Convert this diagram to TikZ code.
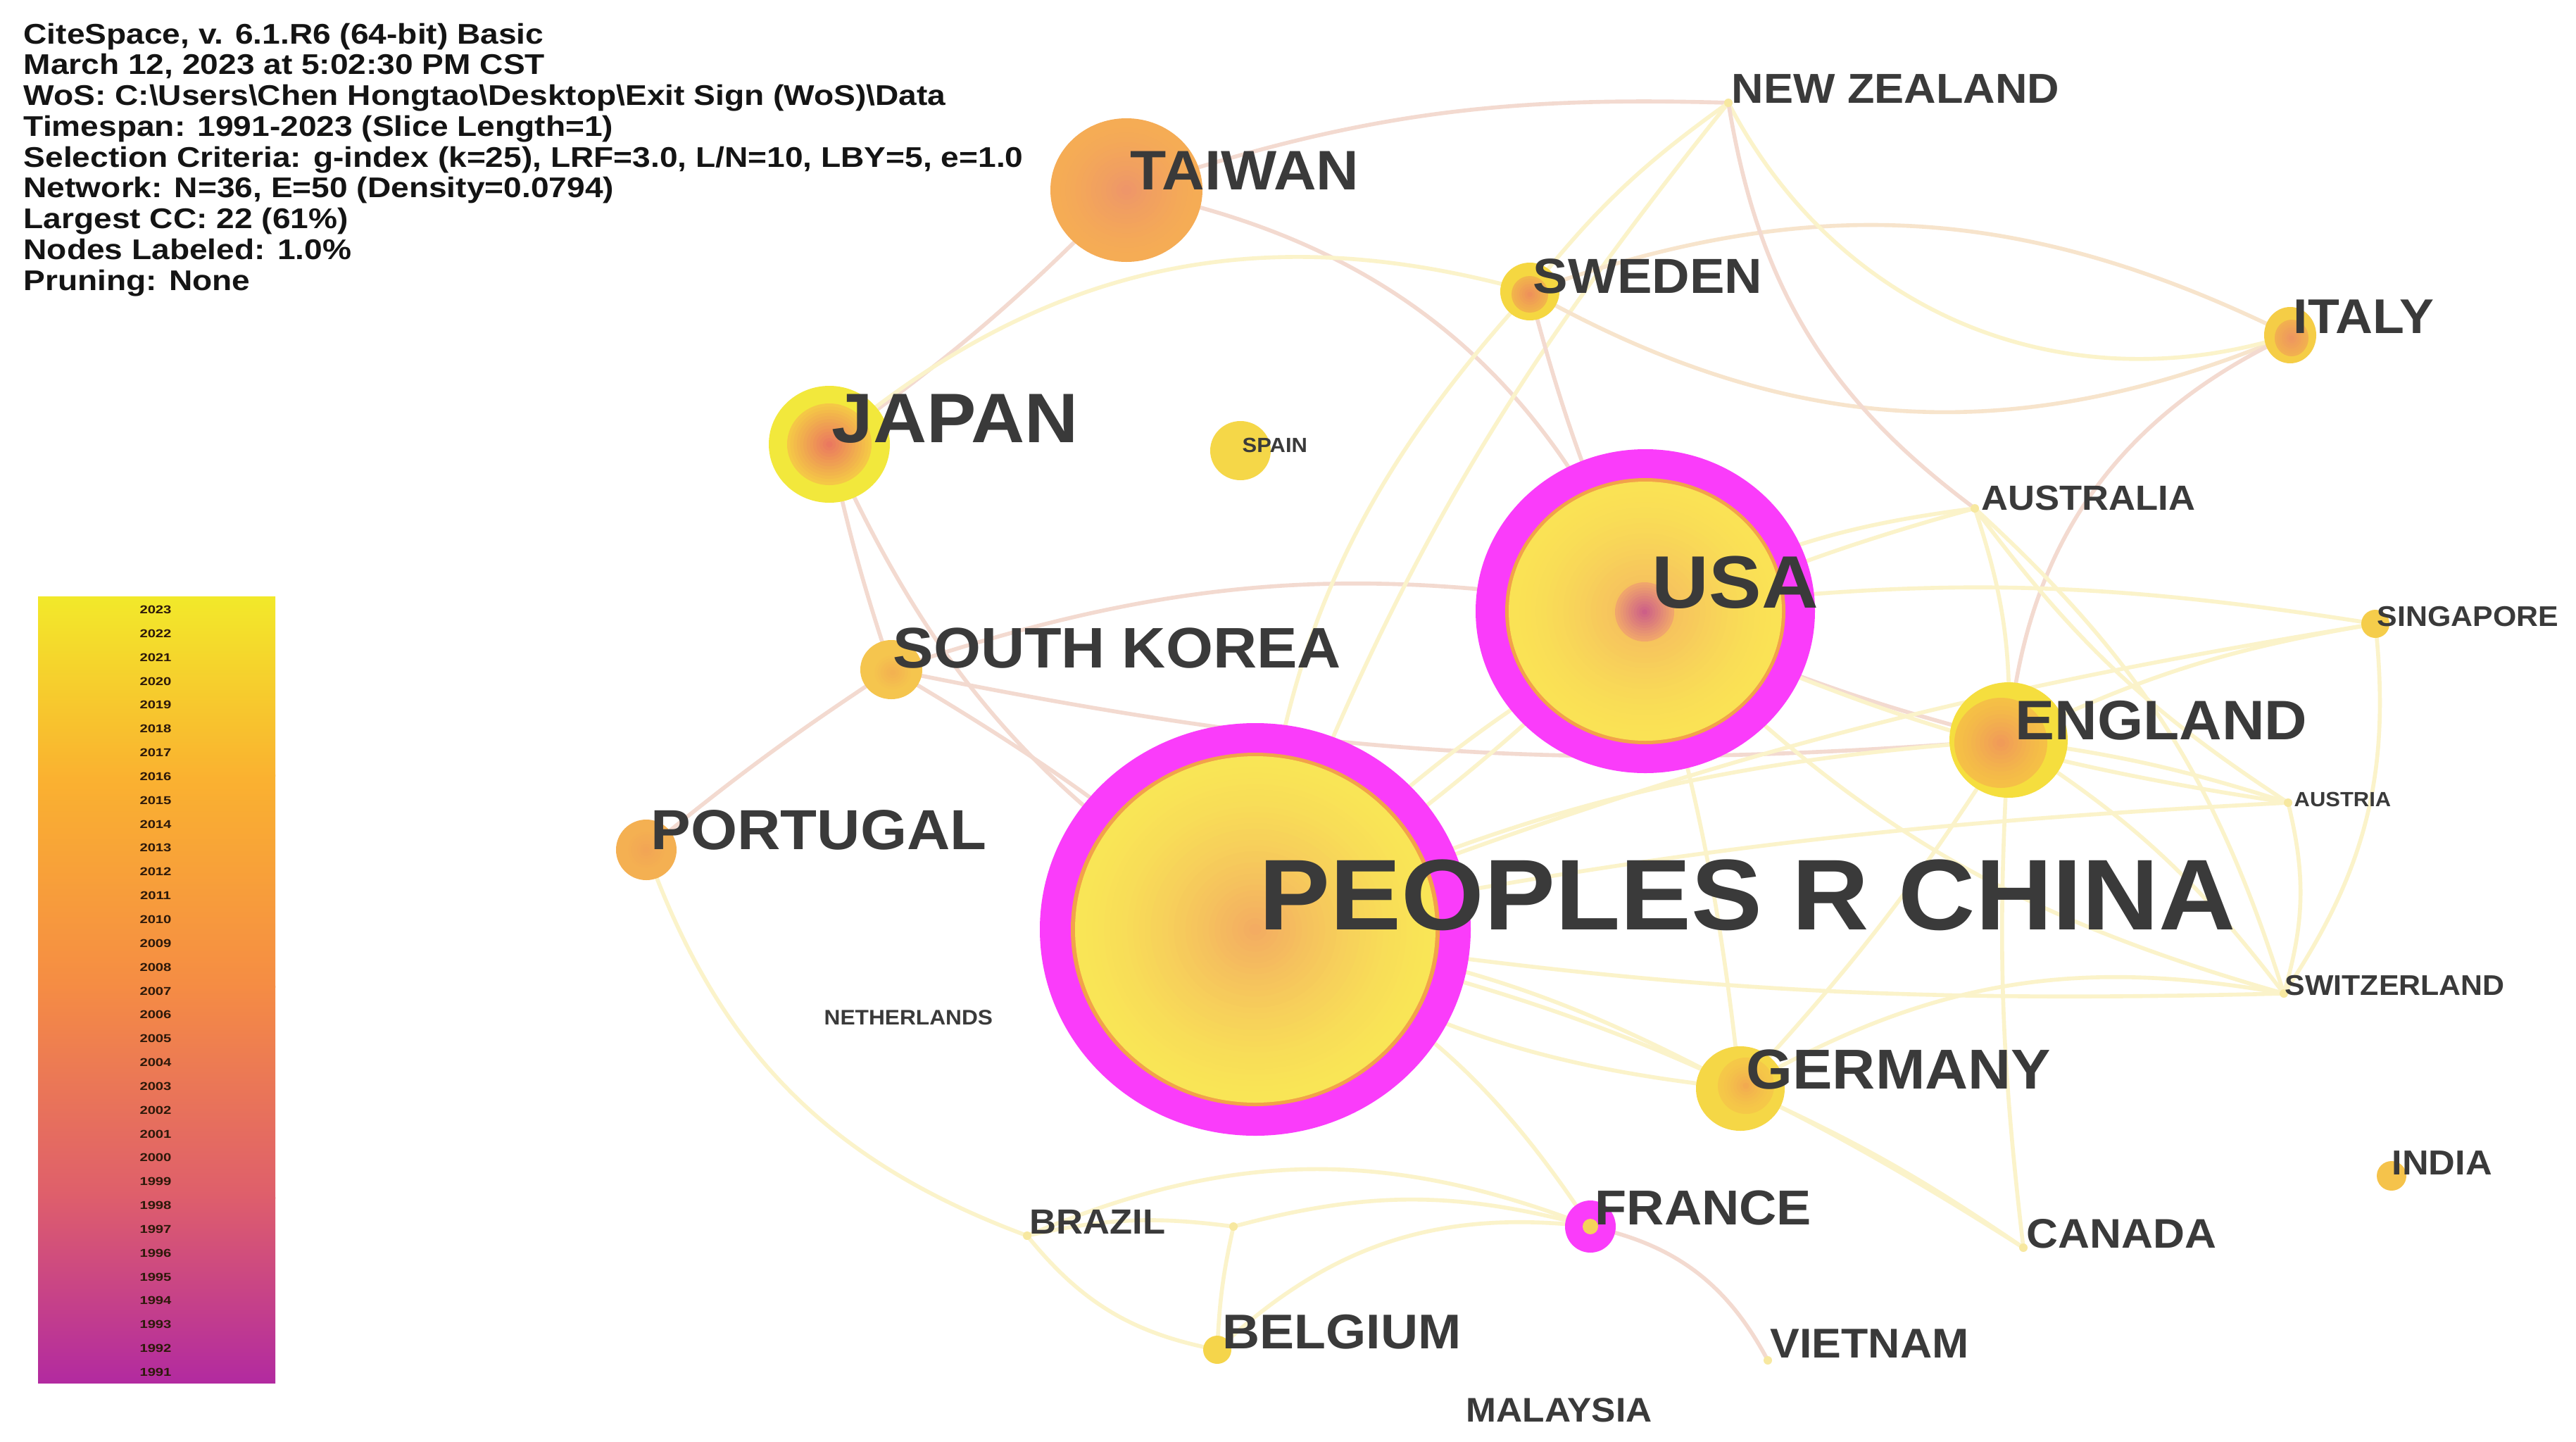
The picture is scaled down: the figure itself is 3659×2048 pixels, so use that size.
\documentclass[tikz,border=0pt]{standalone}
\usepackage{fontspec}
\setmainfont{Liberation Sans}
\usepackage{graphicx}
\definecolor{mag}{RGB}{250,60,250}
\definecolor{ringor}{RGB}{242,162,74}
\definecolor{labc}{RGB}{58,58,58}
\definecolor{hdrc}{RGB}{20,20,20}
\definecolor{edgeY}{RGB}{251,243,202}
\definecolor{edgeP}{RGB}{243,218,208}
\definecolor{edgeO}{RGB}{247,228,204}
\definecolor{cnO}{RGB}{249,229,86}
\definecolor{cnI}{RGB}{243,172,98}
\definecolor{usO}{RGB}{250,226,85}
\definecolor{usI}{RGB}{244,180,98}
\definecolor{usC}{RGB}{240,165,108}
\definecolor{usD}{RGB}{205,95,135}
\definecolor{twO}{RGB}{245,172,85}
\definecolor{twI}{RGB}{238,150,105}
\definecolor{jpY}{RGB}{242,232,60}
\definecolor{jpO}{RGB}{245,200,70}
\definecolor{jpI}{RGB}{234,120,95}
\definecolor{seY}{RGB}{245,215,65}
\definecolor{seO}{RGB}{242,180,75}
\definecolor{seI}{RGB}{238,145,90}
\definecolor{itY}{RGB}{245,205,70}
\definecolor{itO}{RGB}{242,175,80}
\definecolor{itI}{RGB}{238,150,95}
\definecolor{spY}{RGB}{245,215,72}
\definecolor{krY}{RGB}{245,197,78}
\definecolor{krI}{RGB}{243,178,80}
\definecolor{ptY}{RGB}{244,176,82}
\definecolor{ptI}{RGB}{242,165,85}
\definecolor{enY}{RGB}{245,222,62}
\definecolor{enO}{RGB}{245,192,70}
\definecolor{enI}{RGB}{240,155,88}
\definecolor{deY}{RGB}{245,215,70}
\definecolor{deO}{RGB}{245,200,72}
\definecolor{deI}{RGB}{242,170,80}
\definecolor{sgY}{RGB}{245,205,75}
\definecolor{inY}{RGB}{245,195,75}
\definecolor{beY}{RGB}{245,213,75}
\definecolor{frY}{RGB}{245,210,90}
\definecolor{dotY}{RGB}{247,232,160}
\definecolor{lgA}{RGB}{242,233,42}
\definecolor{lgB}{RGB}{250,178,48}
\definecolor{lgC}{RGB}{245,140,68}
\definecolor{lgD}{RGB}{222,94,108}
\definecolor{lgE}{RGB}{178,42,160}
\definecolor{yrc}{RGB}{45,25,10}

\newcommand\ringdisc[8]{%
  \foreach \k in {0,...,#7}{%
    \pgfmathsetmacro\ff{1-\k/(#7+1)}%
    \pgfmathtruncatemacro\pp{100*(\k/#7)^#8}%
    \pgfmathsetlengthmacro\rxx{\ff*#3*0.01cm}%
    \pgfmathsetlengthmacro\ryy{\ff*#4*0.01cm}%
    \fill[#6!\pp!#5] (#1,#2) ellipse [x radius=\rxx, y radius=\ryy];
  }%
}
\newcommand\disc[5]{\fill[#5] (#1,#2) ellipse [x radius=#3*0.01cm, y radius=#4*0.01cm];}
\newcommand\mylab[2]{\scalebox{1.06}[1]{\fontsize{#1pt}{#1pt}\selectfont\bfseries #2}}
\newcommand\hdr[1]{\scalebox{1.14}[1]{\fontsize{11.5pt}{11.5pt}\selectfont\bfseries #1}}
\newcommand\yr[1]{\scalebox{1.25}[1]{\fontsize{4.6pt}{4.6pt}\selectfont\bfseries #1}}

\begin{document}
\begin{tikzpicture}[x=0.01cm,y=-0.01cm,
  eY/.style={draw=edgeY,line width=1.6pt},
  eP/.style={draw=edgeP,line width=1.6pt},
  eO/.style={draw=edgeO,line width=1.6pt},
  lab/.style={anchor=west,inner sep=0pt,text=labc},
  hd/.style={anchor=base west,inner sep=0pt,text=hdrc},
  yrlab/.style={inner sep=0pt,text=yrc}]
\useasboundingbox (0,0) rectangle (3659,2048);
\fill[white] (0,0) rectangle (3659,2048);

% node centres
\coordinate (CN) at (1783,1320);
\coordinate (US) at (2337,868);
\coordinate (TW) at (1600,270);
\coordinate (JP) at (1178,631);
\coordinate (SE) at (2173,414);
\coordinate (SP) at (1762,640);
\coordinate (NZ) at (2455,146);
\coordinate (IT) at (3253,476);
\coordinate (AU) at (2805,722);
\coordinate (SG) at (3374,886);
\coordinate (EN) at (2853,1051);
\coordinate (AT) at (3250,1140);
\coordinate (CH) at (3244,1411);
\coordinate (IN) at (3397,1670);
\coordinate (CA) at (2874,1772);
\coordinate (VN) at (2511,1932);
\coordinate (MY) at (2077,2025);
\coordinate (FR) at (2259,1742);
\coordinate (DE) at (2472,1546);
\coordinate (BE) at (1729,1917);
\coordinate (BR) at (1459,1755);
\coordinate (J) at (1752,1742);
\coordinate (NL) at (1167,1458);
\coordinate (PT) at (918,1207);
\coordinate (KR) at (1266,951);

% links
\draw[eP] (TW) to[bend left=5] (JP);
\draw[eP] (TW) to[bend left=10] (NZ);
\draw[eP] (TW) to[bend left=28] (US);
\draw[eP] (JP) to[bend right=3] (KR);
\draw[eP] (JP) to[bend right=17] (CN);
\draw[eY] (JP) to[bend left=28] (SE);
\draw[eP] (KR) to[bend left=14] (US);
\draw[eP] (KR) to[bend right=8] (EN);
\draw[eP] (KR) to[bend left=5] (CN);
\draw[eP] (PT) to[bend left=3] (KR);
\draw[eY] (PT) to[bend right=25] (BR);
\draw[eY] (BR) to[bend right=20] (BE);
\draw[eY] (BR) to[bend left=22] (FR);
\draw[eY] (BR) to[bend left=10] (J);
\draw[eY] (J) to[bend right=5] (BE);
\draw[eY] (J) to[bend left=15] (FR);
\draw[eY] (BE) to[bend left=25] (FR);
\draw[eY] (FR) to[bend right=15] (CN);
\draw[eP] (FR) to[bend left=25] (VN);
\draw[eY] (CN) to[bend left=19] (SE);
\draw[eY] (CN) to[bend left=9] (NZ);
\draw[eY] (SE) to[bend left=8] (NZ);
\draw[eP] (SE) to[bend right=5] (US);
\draw[eO] (SE) to[bend left=23] (IT);
\draw[eO] (SE) to[bend right=26] (IT);
\draw[eY] (NZ) to[bend right=40] (IT);
\draw[eP] (NZ) to[bend right=22] (AU);
\draw[eP] (IT) to[bend right=30] (EN);
\draw[eY] (US) to[bend left=10] (AU);
\draw[eY] (US) to[bend left=8] (SG);
\draw[eP] (US) to[bend right=5] (EN);
\draw[eY] (US) to[bend right=8] (AT);
\draw[eY] (US) to[bend right=15] (CH);
\draw[eY] (US) to[bend left=5] (DE);
\draw[eY] (US) to[bend left=5] (CN);
\draw[eY] (CN) to[bend left=10] (EN);
\draw[eY] (CN) to[bend left=15] (AU);
\draw[eY] (CN) to[bend left=6] (SG);
\draw[eY] (CN) to[bend left=4] (AT);
\draw[eY] (CN) to[bend right=5] (CH);
\draw[eY] (CN) to[bend left=10] (DE);
\draw[eY] (CN) to[bend right=12] (DE);
\draw[eY] (CN) to[bend left=10] (CA);
\draw[eY] (EN) to[bend right=5] (CA);
\draw[eY] (DE) to[bend left=5] (CA);
\draw[eY] (DE) to[bend left=20] (CH);
\draw[eY] (DE) to[bend right=5] (EN);
\draw[eY] (EN) to[bend left=10] (CH);
\draw[eY] (EN) to[bend left=5] (AT);
\draw[eY] (EN) to[bend right=10] (AU);
\draw[eY] (EN) to[bend left=8] (SG);
\draw[eY] (SG) to[bend left=20] (CH);
\draw[eY] (AU) to[bend left=15] (CH);
\draw[eY] (AU) to[bend right=10] (AT);
\draw[eY] (CH) to[bend right=15] (AT);

% small points
\foreach \c in {NZ,AU,AT,CH,CA,VN,BR,J}{\fill[dotY] (\c) circle [radius=6*0.01cm];}

% CHINA
\disc{1783}{1320}{306}{293}{mag}
\disc{1783}{1320}{262}{251}{ringor}
\ringdisc{1783}{1320}{256}{246}{cnO}{cnI}{30}{1.4}
% USA
\disc{2337}{868}{241}{230}{mag}
\disc{2337}{868}{199}{189}{ringor}
\ringdisc{2337}{868}{194}{184}{usO}{usI}{24}{1.5}
\ringdisc{2336}{869}{42}{42}{usC}{usD}{10}{1.0}
% TAIWAN
\ringdisc{1600}{270}{108}{102}{twO}{twI}{14}{1.5}
% JAPAN
\disc{1178}{631}{86}{83}{jpY}
\ringdisc{1178}{631}{60}{58}{jpO}{jpI}{12}{1.0}
% SWEDEN
\disc{2173}{414}{42}{41}{seY}
\ringdisc{2173}{418}{26}{26}{seO}{seI}{6}{1.0}
% ITALY
\disc{3253}{476}{37}{40}{itY}
\ringdisc{3255}{480}{24}{26}{itO}{itI}{6}{1.0}
% SPAIN
\disc{1762}{640}{43}{42}{spY}
% SOUTH KOREA
\disc{1266}{951}{44}{42}{krY}
\ringdisc{1268}{955}{30}{28}{krY}{krI}{6}{1.0}
% PORTUGAL
\disc{918}{1207}{43}{43}{ptY}
\ringdisc{918}{1207}{30}{30}{ptY}{ptI}{6}{1.0}
% ENGLAND
\disc{2853}{1051}{84}{82}{enY}
\ringdisc{2842}{1055}{66}{64}{enO}{enI}{10}{1.2}
% GERMANY
\disc{2472}{1546}{63}{60}{deY}
\ringdisc{2480}{1542}{40}{40}{deO}{deI}{8}{1.5}
% small coloured nodes
\disc{3374}{886}{20}{20}{sgY}
\disc{3397}{1670}{21}{21}{inY}
\disc{1729}{1917}{20}{20}{beY}
\disc{2259}{1742}{36}{37}{mag}
\disc{2259}{1742}{11}{11}{frY}

% labels
\node[lab] (lCN) at (1788,1271) {\mylab{40.6}{PEOPLES R CHINA}};
\node[lab] (lUS) at (2346,827) {\mylab{30.0}{USA}};
\node[lab] (lTW) at (1605,242) {\mylab{22.5}{TAIWAN}};
\node[lab] (lJP) at (1181,595) {\mylab{28.3}{JAPAN}};
\node[lab] (lSE) at (2177,392) {\mylab{19.9}{SWEDEN}};
\node[lab] (lSP) at (1764,632) {\mylab{8.3}{SPAIN}};
\node[lab] (lNZ) at (2459,126) {\mylab{16.9}{NEW ZEALAND}};
\node[lab] (lIT) at (3257,450) {\mylab{19.7}{ITALY}};
\node[lab] (lAU) at (2814,707) {\mylab{14.1}{AUSTRALIA}};
\node[lab] (lSG) at (3376,876) {\mylab{11.5}{SINGAPORE}};
\node[lab] (lEN) at (2862,1023) {\mylab{22.5}{ENGLAND}};
\node[lab] (lAT) at (3258,1135) {\mylab{8.3}{AUSTRIA}};
\node[lab] (lCH) at (3245,1400) {\mylab{11.5}{SWITZERLAND}};
\node[lab] (lIN) at (3397,1652) {\mylab{14.0}{INDIA}};
\node[lab] (lCA) at (2878,1752) {\mylab{16.7}{CANADA}};
\node[lab] (lVN) at (2514,1908) {\mylab{16.8}{VIETNAM}};
\node[lab] (lMY) at (2082,2003) {\mylab{13.8}{MALAYSIA}};
\node[lab] (lFR) at (2265,1716) {\mylab{19.8}{FRANCE}};
\node[lab] (lDE) at (2480,1519) {\mylab{22.7}{GERMANY}};
\node[lab] (lBE) at (1736,1892) {\mylab{19.7}{BELGIUM}};
\node[lab] (lBR) at (1462,1735) {\mylab{14.1}{BRAZIL}};
\node[lab] (lNL) at (1170,1445) {\mylab{8.5}{NETHERLANDS}};
\node[lab] (lPT) at (924,1179) {\mylab{22.8}{PORTUGAL}};
\node[lab] (lKR) at (1268,921) {\mylab{23.1}{SOUTH KOREA}};

% legend
\shade[top color=lgA,bottom color=lgB] (54,847) rectangle (391,1102);
\shade[top color=lgB,bottom color=lgC] (54,1100) rectangle (391,1402);
\shade[top color=lgC,bottom color=lgD] (54,1400) rectangle (391,1702);
\shade[top color=lgD,bottom color=lgE] (54,1700) rectangle (391,1964);
\foreach \k in {0,...,32}{%
  \pgfmathtruncatemacro\yy{2023-\k}%
  \node[yrlab] (y\yy) at (221,{866+33.84*\k}) {\yr{\yy}};
}

% header
\node[hd] (h1) at (33,62) {\hdr{CiteSpace, v. 6.1.R6 (64-bit) Basic}};
\node[hd] (h2) at (33,105.75) {\hdr{March 12, 2023 at 5:02:30 PM CST}};
\node[hd] (h3) at (33,149.5) {\hdr{WoS: C:\textbackslash Users\textbackslash Chen Hongtao\textbackslash Desktop\textbackslash Exit Sign (WoS)\textbackslash Data}};
\node[hd] (h4) at (33,193.25) {\hdr{Timespan: 1991-2023 (Slice Length=1)}};
\node[hd] (h5) at (33,237) {\hdr{Selection Criteria: g-index (k=25), LRF=3.0, L/N=10, LBY=5, e=1.0}};
\node[hd] (h6) at (33,280.75) {\hdr{Network: N=36, E=50 (Density=0.0794)}};
\node[hd] (h7) at (33,324.5) {\hdr{Largest CC: 22 (61\%)}};
\node[hd] (h8) at (33,368.25) {\hdr{Nodes Labeled: 1.0\%}};
\node[hd] (h9) at (33,412) {\hdr{Pruning: None}};
\end{tikzpicture}
\end{document}
